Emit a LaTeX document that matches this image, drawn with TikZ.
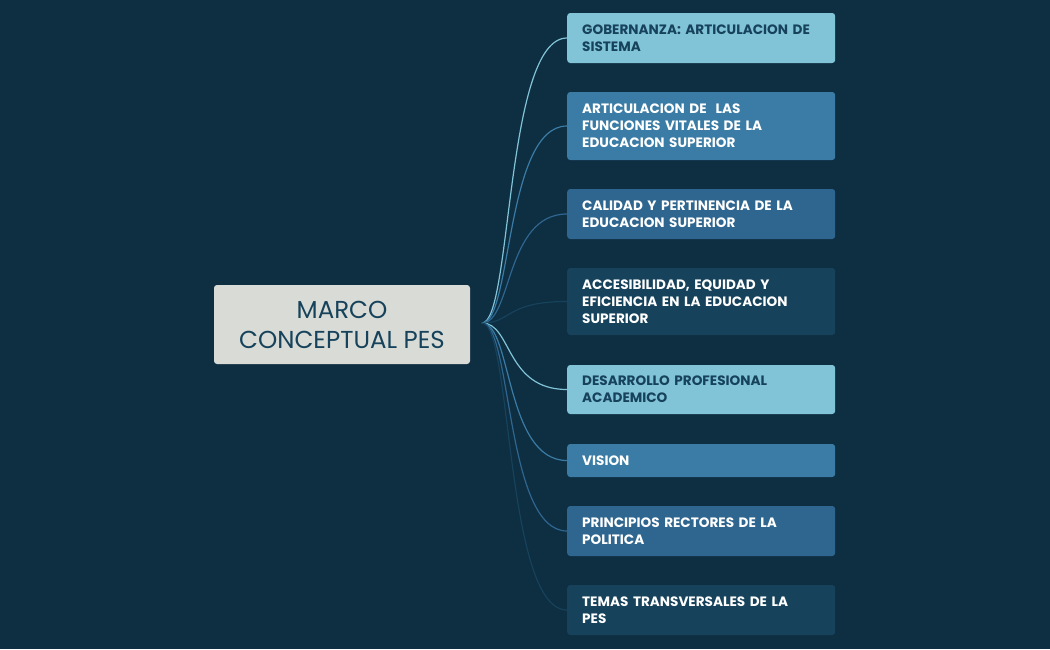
\documentclass[tikz,border=0pt]{standalone}
\usepackage{fontspec}
\setmainfont{Poppins}
\definecolor{bg}{HTML}{0E2E42}
\definecolor{cA}{HTML}{81C3D7}
\definecolor{cB}{HTML}{3A7CA5}
\definecolor{cC}{HTML}{2F6690}
\definecolor{cD}{HTML}{16425B}
\definecolor{ctext}{HTML}{16425B}
\definecolor{cmain}{HTML}{D9DCD6}
\begin{document}
\begin{tikzpicture}[x=1pt,y=-1pt,
  item/.style={anchor=west,rounded corners=3pt,text width=238pt,inner xsep=15pt,inner ysep=0pt,align=left,font=\fontsize{13.6}{17}\selectfont\bfseries,text=white},
  link/.style={line width=1.2pt}]
\fill[bg] (0,0) rectangle (1050,649);
\node[fill=cmain,rounded corners=3pt,minimum width=256pt,minimum height=79pt,align=center,text=ctext,font=\fontsize{24.5}{30}\selectfont] (m) at (342,324.5) {MARCO\\CONCEPTUAL PES};
\coordinate (o) at (482,323);
\foreach \n/\y/\h/\c/\t/\txt in {
 1/38/50/cA/ctext/{GOBERNANZA: ARTICULACION DE\\SISTEMA},
 2/126/68/cB/white/{ARTICULACION DE\ \ LAS\\FUNCIONES VITALES DE LA\\EDUCACION SUPERIOR},
 3/214/50/cC/white/{CALIDAD Y PERTINENCIA DE LA\\EDUCACION SUPERIOR},
 4/301.5/67/cD/white/{ACCESIBILIDAD, EQUIDAD Y\\EFICIENCIA EN LA EDUCACION\\SUPERIOR},
 5/389.5/49/cA/ctext/{DESARROLLO PROFESIONAL\\ACADEMICO},
 6/460.5/33/cB/white/{VISION},
 7/531/50/cC/white/{PRINCIPIOS RECTORES DE LA\\POLITICA},
 8/610/50/cD/white/{TEMAS TRANSVERSALES DE LA\\PES}} {
  \node[item,fill=\c,text=\t,minimum height=\h pt] (n\n) at (567,\y) {\txt};
  \draw[link,draw=\c] (o) .. controls (512,323) and (505,\y) .. (n\n.west);
}
\end{tikzpicture}
\end{document}
